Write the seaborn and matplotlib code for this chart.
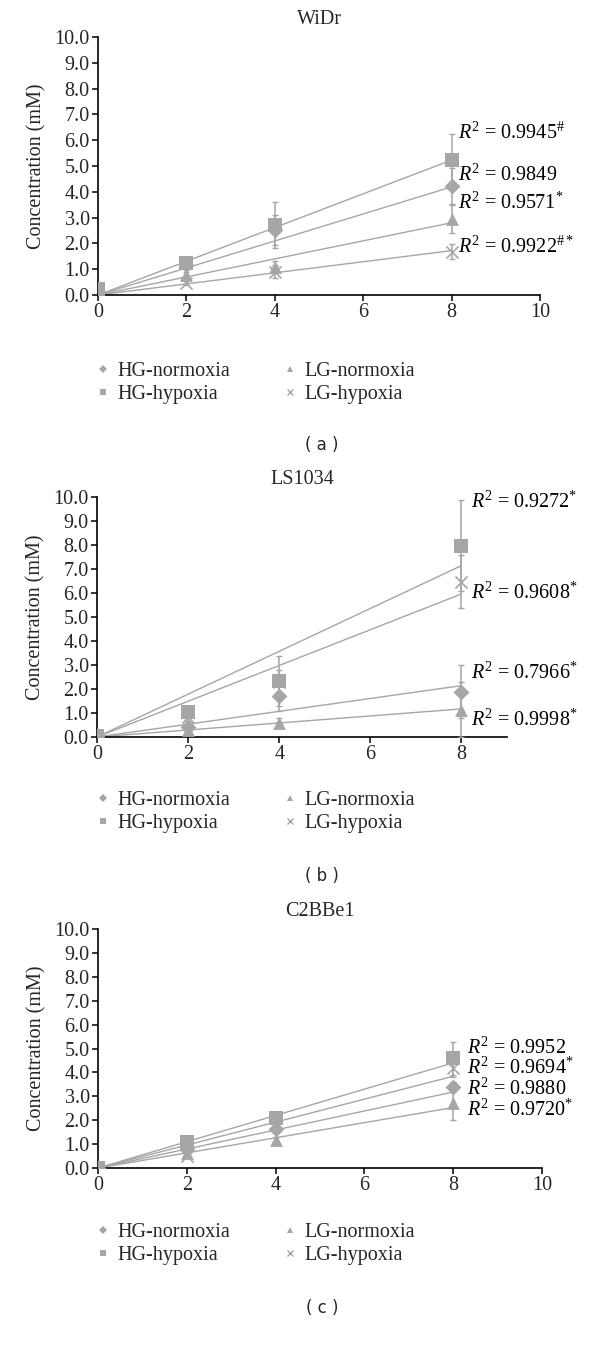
import matplotlib
matplotlib.use("Agg")
import matplotlib.pyplot as plt
import seaborn as sns
import pandas as pd
from matplotlib.lines import Line2D

# groups in legend / drawing order
groups = ["HG-normoxia", "HG-hypoxia", "LG-normoxia", "LG-hypoxia"]
group_markers = ["D", "s", "^", "x"]
hours = [0, 2, 4, 8]

# WiDr (a)
widr_means = [[0.10, 1.15, 2.52, 4.22],
              [0.25, 1.25, 2.71, 5.23],
              [0.05, 0.78, 1.10, 2.95],
              [0.00, 0.48, 0.90, 1.68]]
widr_err = [[0.05, 0.15, 0.60, 0.70],
            [0.05, 0.20, 0.90, 1.00],
            [0.03, 0.10, 0.20, 0.55],
            [0.03, 0.10, 0.25, 0.28]]
widr_fit_at8 = [4.19, 5.23, 2.80, 1.72]
widr_r2 = [r"$R^2$ = 0.9849", r"$R^2$ = 0.9945$^{\#}$",
           r"$R^2$ = 0.9571$^{*}$", r"$R^2$ = 0.9922$^{\#*}$"]
widr_r2_y = [4.65, 6.28, 3.56, 1.87]

# LS1034 (b)
ls_means = [[0.05, 0.40, 1.72, 1.89],
            [0.05, 1.05, 2.33, 7.97],
            [0.02, 0.30, 0.58, 1.13],
            [0.02, 0.85, 2.28, 6.47]]
ls_err = [[0.05, 0.10, 0.65, 1.10],
          [0.05, 0.25, 1.05, 1.90],
          [0.02, 0.10, 0.20, 1.15],
          [0.02, 0.20, 0.50, 1.10]]
ls_fit_at8 = [2.14, 7.14, 1.17, 5.96]
ls_r2 = [r"$R^2$ = 0.7966$^{*}$", r"$R^2$ = 0.9272$^{*}$",
         r"$R^2$ = 0.9998$^{*}$", r"$R^2$ = 0.9608$^{*}$"]
ls_r2_y = [2.67, 9.80, 0.70, 6.00]

# C2BBe1 (c)
c2_means = [[0.00, 0.80, 1.65, 3.38],
            [0.00, 1.08, 2.10, 4.59],
            [0.00, 0.62, 1.16, 2.70],
            [0.00, 0.52, 1.85, 4.20]]
c2_err = [[0.02, 0.10, 0.15, 0.20],
          [0.02, 0.15, 0.10, 0.70],
          [0.02, 0.10, 0.15, 0.70],
          [0.02, 0.10, 0.15, 0.40]]
c2_fit_at8 = [3.18, 4.40, 2.53, 3.84]
c2_r2 = [r"$R^2$ = 0.9880", r"$R^2$ = 0.9952",
         r"$R^2$ = 0.9720$^{*}$", r"$R^2$ = 0.9694$^{*}$"]
c2_r2_y = [3.30, 5.02, 2.42, 4.18]

sns.set_style("ticks")
plt.rcParams['font.family'] = ['Liberation Serif', 'DejaVu Serif']
plt.rcParams['mathtext.fontset'] = 'custom'
plt.rcParams['mathtext.rm'] = 'Liberation Serif'
plt.rcParams['mathtext.it'] = 'Liberation Serif:italic'

grey = "#a6a6a6"
fs = 14.5

fig = plt.figure(figsize=(6, 13.7), dpi=100)
W, H = 600, 1370


def rect(left, right, top, bottom):
    return [left / W, 1 - bottom / H, (right - left) / W, (bottom - top) / H]


def panel(ax, title, means, errs, fit8, r2, r2_y, xmax, r2_x, leg_y, tag, tag_y):
    # trendlines through origin
    fit = pd.DataFrame({"x": [0, 8] * 4,
                        "y": [v for f in fit8 for v in (0, f)],
                        "g": [g for g in groups for _ in range(2)]})
    sns.lineplot(data=fit, x="x", y="y", units="g", estimator=None,
                 color=grey, lw=1.0, ax=ax, legend=False)
    for i, g in enumerate(groups):
        ax.errorbar(hours, means[i], yerr=errs[i], fmt="none", ecolor=grey,
                    elinewidth=1.1, capsize=2.5, capthick=1.0, zorder=3)
        df = pd.DataFrame({"h": hours, "v": means[i]})
        mk = group_markers[i]
        size = {"D": 65, "s": 95, "^": 85, "x": 75}[mk]
        if mk == "x":
            sns.scatterplot(data=df, x="h", y="v", marker="x", color=grey,
                            s=size, linewidth=1.2, ax=ax, zorder=4)
        else:
            sns.scatterplot(data=df, x="h", y="v", marker=mk, color=grey,
                            s=size, linewidth=0, ax=ax, zorder=4)
        ax.text(r2_x, r2_y[i], r2[i], fontsize=fs, va="center", ha="left",
                color="black")
    ax.set_xlim(0, xmax)
    ax.set_ylim(0, 10)
    ax.set_xticks(range(0, xmax + 1 if xmax == 10 else xmax, 2))
    ax.set_yticks(range(0, 11))
    ax.set_yticklabels([f"{v:.1f}" for v in range(0, 11)])
    ax.set_xlabel("")
    ax.set_ylabel("Concentration (mM)", fontsize=fs, labelpad=6)
    ax.tick_params(axis="both", labelsize=fs, length=4, width=1.1,
                   direction="out", color="black", pad=2)
    for s in ["left", "bottom"]:
        ax.spines[s].set_linewidth(1.2)
        ax.spines[s].set_color("black")
    sns.despine(ax=ax)
    ax.set_title(title, fontsize=fs, pad=9)

    handles = [Line2D([], [], marker=m, color=grey, linestyle="none",
                      markersize=4.5 if m != "x" else 5,
                      markeredgewidth=1 if m == "x" else 0)
               for m in group_markers]
    ax.legend(handles, groups, ncol=2, loc="center left",
              bbox_to_anchor=(95 / W, 1 - leg_y / H),
              bbox_transform=fig.transFigure, frameon=False,
              fontsize=fs, handlelength=0.8, handletextpad=0.3,
              columnspacing=2.6, labelspacing=0.2, borderpad=0,
              borderaxespad=0)
    fig.text(322 / W, 1 - tag_y / H, tag, fontsize=12, ha="center", va="center",
             family="DejaVu Sans")


ax_a = fig.add_axes(rect(98, 540, 37, 295))
panel(ax_a, "WiDr", widr_means, widr_err, widr_fit_at8, widr_r2, widr_r2_y,
      10, 8.15, 383, "( a )", 445)

ax_b = fig.add_axes(rect(97, 507, 497, 737))
panel(ax_b, "LS1034", ls_means, ls_err, ls_fit_at8, ls_r2, ls_r2_y,
      9, 8.2, 812, "( b )", 876)

ax_c = fig.add_axes(rect(98, 542, 929, 1168))
panel(ax_c, "C2BBe1", c2_means, c2_err, c2_fit_at8, c2_r2, c2_r2_y,
      10, 8.3, 1244, "( c )", 1308)

fig.savefig("out.png", dpi=100)
